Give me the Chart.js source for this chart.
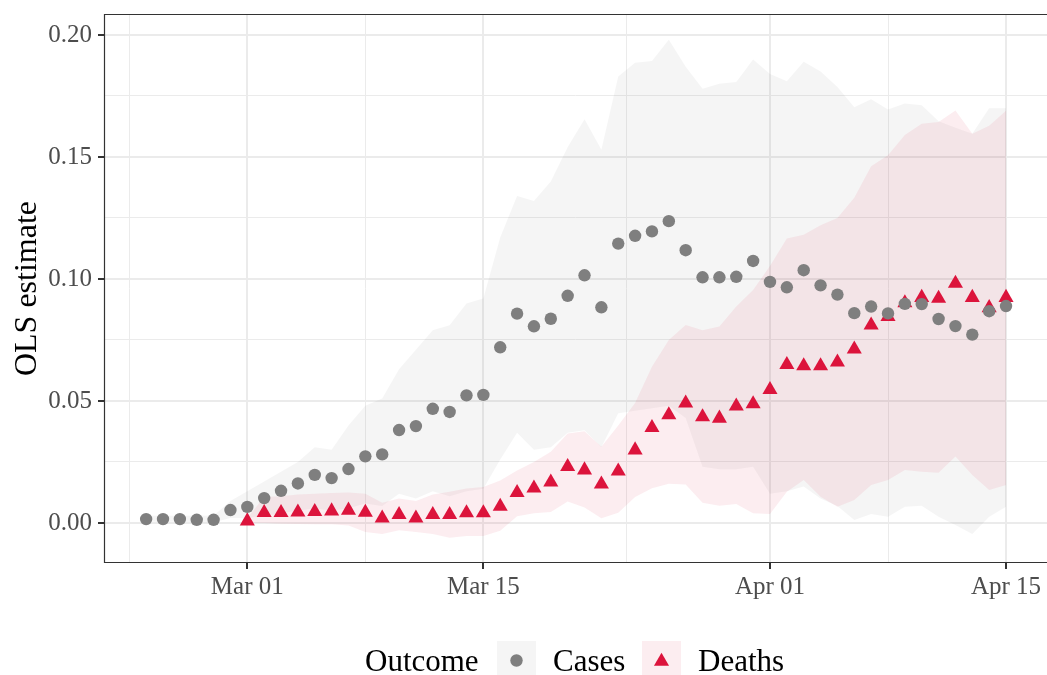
<!DOCTYPE html>
<html>
<head>
<meta charset="utf-8">
<script src="https://cdn.jsdelivr.net/npm/chart.js@4.4.1/dist/chart.umd.min.js"></script>
<style>
  html, body { margin: 0; padding: 0; background: #fff; }
  canvas { display: block; }
</style>
</head>
<body>
<canvas id="olsChart" width="1047" height="675"></canvas>
<script>
// daily OLS estimates, cases run Feb 24 .. Apr 15, deaths run Mar 01 .. Apr 15
var casesStart = -6;   // days before Mar 01
var deathsStart = 0;

var casesEst = [0.0016, 0.0016, 0.0016, 0.0013, 0.0013, 0.0053, 0.0066, 0.0102, 0.0132, 0.0162,
  0.0197, 0.0184, 0.0221, 0.0273, 0.0281, 0.0381, 0.0397, 0.0468, 0.0455, 0.0523,
  0.0525, 0.0720, 0.0858, 0.0806, 0.0837, 0.0931, 0.1015, 0.0884, 0.1145, 0.1177,
  0.1195, 0.1237, 0.1118, 0.1007, 0.1007, 0.1009, 0.1074, 0.0988, 0.0966, 0.1036,
  0.0974, 0.0936, 0.0860, 0.0887, 0.0859, 0.0898, 0.0897, 0.0836, 0.0807, 0.0772,
  0.0868, 0.0889];
var casesHigh = [0.003, 0.003, 0.003, 0.003, 0.003, 0.009, 0.013, 0.017, 0.021, 0.025,
  0.031, 0.030, 0.040, 0.048, 0.051, 0.063, 0.071, 0.079, 0.081, 0.090,
  0.092, 0.117, 0.134, 0.132, 0.140, 0.154, 0.1655, 0.153, 0.183, 0.1886,
  0.1893, 0.198, 0.187, 0.178, 0.180, 0.1807, 0.190, 0.184, 0.181, 0.189,
  0.185, 0.1787, 0.1704, 0.1737, 0.1695, 0.1719, 0.1712, 0.1646, 0.162, 0.1595,
  0.170, 0.170];
var casesLow = [0.0005, 0.0005, 0.0005, 0.0003, 0.0003, 0.002, 0.002, 0.003, 0.004, 0.005,
  0.006, 0.005, 0.006, 0.008, 0.007, 0.012, 0.010, 0.013, 0.011, 0.013,
  0.014, 0.026, 0.037, 0.030, 0.031, 0.037, 0.038, 0.031, 0.045, 0.046,
  0.047, 0.048, 0.043, 0.023, 0.022, 0.022, 0.023, 0.012, 0.013, 0.015,
  0.010, 0.007, 0.0012, 0.0037, 0.0026, 0.0067, 0.0071, 0.0026, -0.0008, -0.0045,
  0.0026, 0.0067];

var deathsEst = [0.0008, 0.0042, 0.0042, 0.0044, 0.0046, 0.0049, 0.0052, 0.0043, 0.0020, 0.0034,
  0.0020, 0.0034, 0.0034, 0.0041, 0.0041, 0.0068, 0.0124, 0.0143, 0.0167, 0.0231,
  0.0217, 0.0159, 0.0212, 0.0299, 0.0391, 0.0443, 0.0491, 0.0435, 0.0429, 0.0479,
  0.0488, 0.0546, 0.0649, 0.0644, 0.0644, 0.0659, 0.0712, 0.0811, 0.0846, 0.0902,
  0.0924, 0.0920, 0.0982, 0.0924, 0.0882, 0.0924];
var deathsHigh = [0.002, 0.0106, 0.011, 0.0117, 0.012, 0.0123, 0.0125, 0.012, 0.0083, 0.010,
  0.009, 0.0117, 0.0128, 0.0141, 0.0147, 0.0174, 0.0215, 0.025, 0.0292, 0.0367,
  0.0376, 0.0312, 0.040, 0.0492, 0.064, 0.075, 0.0811, 0.079, 0.0805, 0.0887,
  0.0955, 0.1053, 0.1166, 0.1181, 0.122, 0.125, 0.1333, 0.1462, 0.1507, 0.159,
  0.1636, 0.1643, 0.1691, 0.1595, 0.1628, 0.1689];
var deathsLow = [0.000, 0.000, -0.0003, -0.0004, -0.0005, -0.0005, -0.001, -0.0037, -0.0045, -0.003,
  -0.0037, -0.0045, -0.0061, -0.0053, -0.0053, -0.0032, 0.0028, 0.004, 0.0045, 0.0088,
  0.0063, 0.0019, 0.0042, 0.0107, 0.0142, 0.0161, 0.0158, 0.0083, 0.0071, 0.0078,
  0.004, 0.0037, 0.0128, 0.0176, 0.0108, 0.0067, 0.0094, 0.0156, 0.0176, 0.0217,
  0.021, 0.0206, 0.0272, 0.0197, 0.0135, 0.0156];

// axis ticks (x = days since Mar 01)
var xMajor = [0, 14, 31, 45];
var xLabels = ['Mar 01', 'Mar 15', 'Apr 01', 'Apr 15'];
var xMinor = [-7, 7, 22.5, 38];
var yMajor = [0, 0.05, 0.1, 0.15, 0.2];
var yLabels = ['0.00', '0.05', '0.10', '0.15', '0.20'];
var yMinor = [0.025, 0.075, 0.125, 0.175];

var greyCol = '#7f7f7f';
var redCol = '#dc143c';
var greyFill = 'rgba(128,128,128,0.08)';
var redFill = 'rgba(220,20,60,0.08)';
var serif = '"Liberation Serif", "Times New Roman", serif';

function toPoints(values, start) {
  return values.map(function (v, i) { return { x: start + i, y: v }; });
}

function tickList(major, minor) {
  return major.concat(minor).sort(function (a, b) { return a - b; })
    .map(function (v) { return { value: v }; });
}

function isMajor(list, v) {
  return list.some(function (m) { return Math.abs(m - v) < 1e-9; });
}

// no extra room for overhanging labels, the panel fills the canvas like the original
function fitScale(scale, size) {
  if (scale.isHorizontal()) scale.height = size; else scale.width = size;
  scale.paddingTop = 0;
  scale.paddingBottom = 0;
  scale.paddingLeft = 0;
  scale.paddingRight = 0;
}

var panelAndLegend = {
  id: 'panelAndLegend',
  afterDatasetsDraw: function (chart) {
    var ctx = chart.ctx, a = chart.chartArea;
    ctx.save();
    ctx.strokeStyle = '#333333';
    ctx.lineWidth = 1.2;
    ctx.beginPath();
    ctx.moveTo(a.right + 2, a.top + 0.5);
    ctx.lineTo(a.left + 0.5, a.top + 0.5);
    ctx.lineTo(a.left + 0.5, a.bottom - 0.5);
    ctx.lineTo(a.right + 2, a.bottom - 0.5);
    ctx.stroke();
    ctx.restore();
  },
  afterDraw: function (chart) {
    var ctx = chart.ctx, a = chart.chartArea;
    ctx.save();
    // y axis title
    ctx.fillStyle = '#000';
    ctx.font = '32px ' + serif;
    ctx.textAlign = 'center';
    ctx.textBaseline = 'alphabetic';
    ctx.translate(36, (a.top + a.bottom) / 2);
    ctx.rotate(-Math.PI / 2);
    ctx.fillText('OLS estimate', 0, 0);
    ctx.restore();

    // legend
    ctx.save();
    ctx.font = '31px ' + serif;
    ctx.fillStyle = '#000';
    ctx.textAlign = 'left';
    ctx.textBaseline = 'alphabetic';
    ctx.fillText('Outcome', 365, 671);
    ctx.fillStyle = greyFill;
    ctx.fillRect(497, 641, 39, 39);
    ctx.fillStyle = greyCol;
    ctx.beginPath();
    ctx.arc(516.5, 660.5, 6.2, 0, Math.PI * 2);
    ctx.fill();
    ctx.fillStyle = '#000';
    ctx.fillText('Cases', 553, 671);
    ctx.fillStyle = redFill;
    ctx.fillRect(642, 641, 39, 39);
    ctx.fillStyle = redCol;
    var r = 8.7, cx = 661.5, cy = 661.5;
    ctx.beginPath();
    ctx.moveTo(cx, cy - r);
    ctx.lineTo(cx + r * Math.cos(Math.PI / 6), cy + r / 2);
    ctx.lineTo(cx - r * Math.cos(Math.PI / 6), cy + r / 2);
    ctx.closePath();
    ctx.fill();
    ctx.fillStyle = '#000';
    ctx.fillText('Deaths', 698, 671);
    ctx.restore();
  }
};

var ctxO = document.getElementById('olsChart').getContext('2d');
var olsChart = new Chart(ctxO, {
  type: 'scatter',
  data: {
    datasets: [
      { type: 'line', label: 'cases low', data: toPoints(casesLow, casesStart),
        pointRadius: 0, borderWidth: 0, fill: false, order: 4 },
      { type: 'line', label: 'cases high', data: toPoints(casesHigh, casesStart),
        pointRadius: 0, borderWidth: 0, borderColor: 'rgba(0,0,0,0)',
        backgroundColor: greyFill, fill: 0, order: 4 },
      { type: 'line', label: 'deaths low', data: toPoints(deathsLow, deathsStart),
        pointRadius: 0, borderWidth: 0, fill: false, order: 3 },
      { type: 'line', label: 'deaths high', data: toPoints(deathsHigh, deathsStart),
        pointRadius: 0, borderWidth: 0, borderColor: 'rgba(0,0,0,0)',
        backgroundColor: redFill, fill: 2, order: 3 },
      { label: 'Deaths', data: toPoints(deathsEst, deathsStart),
        pointStyle: 'triangle', pointRadius: 8.7, pointBorderWidth: 0,
        backgroundColor: redCol, borderColor: redCol, order: 1 },
      { label: 'Cases', data: toPoints(casesEst, casesStart),
        pointStyle: 'circle', pointRadius: 6.2, pointBorderWidth: 0,
        backgroundColor: greyCol, borderColor: greyCol, order: 0 }
    ]
  },
  options: {
    responsive: false,
    animation: false,
    devicePixelRatio: 1,
    layout: { autoPadding: false, padding: { top: 14, right: 0, bottom: 0, left: 0 } },
    plugins: { legend: { display: false }, tooltip: { enabled: false } },
    scales: {
      x: {
        type: 'linear',
        min: -8.5,
        max: 47.43,
        afterFit: function (scale) { fitScale(scale, 112); },
        afterBuildTicks: function (scale) { scale.ticks = tickList(xMajor, xMinor); },
        border: { display: false },
        grid: {
          color: '#ebebeb',
          lineWidth: function (c) { return c.tick && isMajor(xMajor, c.tick.value) ? 2 : 1; },
          tickColor: function (c) { return c.tick && isMajor(xMajor, c.tick.value) ? '#333333' : 'rgba(0,0,0,0)'; },
          tickWidth: 2,
          tickLength: 6
        },
        ticks: {
          autoSkip: false,
          maxRotation: 0,
          padding: 3,
          color: '#4d4d4d',
          font: { family: serif, size: 25 },
          callback: function (v) {
            var i = xMajor.indexOf(v);
            return i >= 0 ? xLabels[i] : '';
          }
        }
      },
      y: {
        type: 'linear',
        min: -0.0164,
        max: 0.2086,
        afterFit: function (scale) { fitScale(scale, 104); },
        afterBuildTicks: function (scale) { scale.ticks = tickList(yMajor, yMinor); },
        border: { display: false },
        grid: {
          color: '#ebebeb',
          lineWidth: function (c) { return c.tick && isMajor(yMajor, c.tick.value) ? 2 : 1; },
          tickColor: function (c) { return c.tick && isMajor(yMajor, c.tick.value) ? '#333333' : 'rgba(0,0,0,0)'; },
          tickWidth: 2,
          tickLength: 6
        },
        ticks: {
          padding: 6,
          color: '#4d4d4d',
          font: { family: serif, size: 25 },
          callback: function (v) {
            for (var i = 0; i < yMajor.length; i++) {
              if (Math.abs(yMajor[i] - v) < 1e-9) return yLabels[i];
            }
            return '';
          }
        }
      }
    }
  },
  plugins: [panelAndLegend]
});
</script>
</body>
</html>
